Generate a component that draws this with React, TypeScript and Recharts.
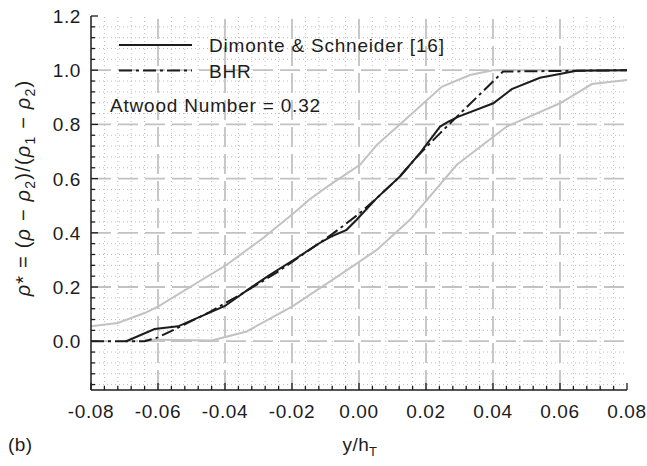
import { Label, Line, LineChart, ReferenceLine, XAxis, YAxis } from "recharts";

// panel (b): normalised density across the mixing layer

const xMajor = [-0.08, -0.06, -0.04, -0.02, 0.0, 0.02, 0.04, 0.06, 0.08];
const yMajor = [0.0, 0.2, 0.4, 0.6, 0.8, 1.0, 1.2];
const xDomain: [number, number] = [-0.08, 0.08];
const yDomain: [number, number] = [-0.18, 1.2];

const dimonteX = [-0.0695, -0.061, -0.054, -0.04, -0.0325, -0.0266, -0.0186, -0.0126, -0.0085, -0.0037, -0.0007, 0.0053, 0.0122, 0.0182, 0.0242, 0.0267, 0.0297, 0.0401, 0.0456, 0.054, 0.065, 0.08];
const dimonteY = [0.0, 0.045, 0.055, 0.13, 0.196, 0.245, 0.307, 0.356, 0.385, 0.411, 0.448, 0.528, 0.608, 0.694, 0.792, 0.81, 0.829, 0.878, 0.93, 0.972, 0.998, 1.0];

const bhrX = [-0.08, -0.064, -0.06, -0.054, -0.045, -0.035, -0.025, -0.015, -0.008, 0.0, 0.0053, 0.012, 0.018, 0.024, 0.031, 0.04, 0.043, 0.08];
const bhrY = [0.0, 0.0, 0.014, 0.05, 0.105, 0.175, 0.25, 0.335, 0.395, 0.47, 0.528, 0.605, 0.69, 0.765, 0.85, 0.958, 0.995, 1.0];

const upperX = [-0.08, -0.072, -0.064, -0.06, -0.0395, -0.0287, -0.0197, -0.0146, -0.0087, 0.0003, 0.0053, 0.0131, 0.0247, 0.0331, 0.04, 0.08];
const upperY = [0.055, 0.067, 0.104, 0.128, 0.282, 0.38, 0.47, 0.525, 0.577, 0.651, 0.724, 0.81, 0.939, 0.982, 1.0, 1.0];

const lowerX = [-0.064, -0.06, -0.044, -0.0335, -0.02, -0.0057, 0.0053, 0.0152, 0.0292, 0.0441, 0.06, 0.0695, 0.08];
const lowerY = [0.005, 0.005, 0.003, 0.036, 0.128, 0.245, 0.337, 0.448, 0.651, 0.792, 0.878, 0.949, 0.964];

const toPoints = (xs: number[], ys: number[]) => xs.map((x, i) => ({ x, y: ys[i] }));

const dimonte = toPoints(dimonteX, dimonteY);
const bhr = toPoints(bhrX, bhrY);
const upper = toPoints(upperX, upperY);
const lower = toPoints(lowerX, lowerY);

const FONT = "'Liberation Sans', Arial, Helvetica, sans-serif";
const INK = "#1c1c1c";
const GREY = "#c2c2c2";
const DASH_DOT = "13 4 3 4";
const PLOT = { left: 91, right: 627, top: 16, bottom: 390 };

function steps(lo: number, hi: number, step: number) {
  const out: number[] = [];
  for (let k = Math.ceil(lo / step - 1e-9); k * step <= hi + 1e-9; k++) {
    out.push(+(k * step).toFixed(4));
  }
  return out;
}

const isMajor = (v: number, majors: number[]) => majors.some((m) => Math.abs(m - v) < 1e-6);

const xTicks = steps(xDomain[0], xDomain[1], 0.004);
const yTicks = steps(yDomain[0], yDomain[1], 0.04);
const xMinor = xTicks.filter((v) => !isMajor(v, xMajor));
const yMinor = yTicks.filter((v) => !isMajor(v, yMajor));
const xGrid = xMajor.slice(1, -1);
const yGrid = yMajor.slice(0, -1);

function BottomTick(props: any) {
  const { x, payload } = props;
  const major = isMajor(payload.value, xMajor);
  return (
    <g>
      <line x1={x} x2={x} y1={PLOT.bottom} y2={PLOT.bottom - (major ? 7 : 4)} stroke={INK} strokeWidth={1.3} />
      {major && (
        <text x={x} y={PLOT.bottom + 28} textAnchor="middle" fontSize={19} letterSpacing={0.6} fill={INK} fontFamily={FONT}>
          {payload.value.toFixed(2)}
        </text>
      )}
    </g>
  );
}

function TopTick(props: any) {
  const { x, payload } = props;
  const major = isMajor(payload.value, xMajor);
  return <line x1={x} x2={x} y1={PLOT.top} y2={PLOT.top + (major ? 7 : 4)} stroke={INK} strokeWidth={1.3} />;
}

function LeftTick(props: any) {
  const { y, payload } = props;
  const major = isMajor(payload.value, yMajor);
  return (
    <g>
      <line x1={PLOT.left} x2={PLOT.left + (major ? 7 : 4)} y1={y} y2={y} stroke={INK} strokeWidth={1.3} />
      {major && (
        <text x={PLOT.left - 10} y={y + 7} textAnchor="end" fontSize={19} letterSpacing={0.6} fill={INK} fontFamily={FONT}>
          {payload.value.toFixed(1)}
        </text>
      )}
    </g>
  );
}

function RightTick(props: any) {
  const { y, payload } = props;
  const major = isMajor(payload.value, yMajor);
  return <line x1={PLOT.right} x2={PLOT.right - (major ? 7 : 4)} y1={y} y2={y} stroke={INK} strokeWidth={1.3} />;
}

const rho = (key: string) => (
  <tspan key={key} fontStyle="italic">
    ρ
  </tspan>
);

function YTitle() {
  const cx = 30;
  const cy = 188;
  return (
    <text transform={`rotate(-90 ${cx} ${cy})`} x={cx} y={cy} textAnchor="middle" fontSize={20} letterSpacing={1.2} fill={INK} fontFamily={FONT}>
      {rho("a")}
      <tspan>* = (</tspan>
      {rho("b")}
      <tspan> − </tspan>
      {rho("c")}
      <tspan dy={5} fontSize={14}>2</tspan>
      <tspan dy={-5}>)/(</tspan>
      {rho("d")}
      <tspan dy={5} fontSize={14}>1</tspan>
      <tspan dy={-5}> − </tspan>
      {rho("e")}
      <tspan dy={5} fontSize={14}>2</tspan>
      <tspan dy={-5}>)</tspan>
    </text>
  );
}

function XTitle() {
  return (
    <g fontFamily={FONT} fill={INK}>
      <text x={360} y={451} textAnchor="middle" fontSize={19} letterSpacing={0.4}>
        y/h<tspan dy={5} fontSize={13}>T</tspan>
      </text>
      <text x={8} y={451} fontSize={19} letterSpacing={0.4}>
        (b)
      </text>
    </g>
  );
}

function LegendBox() {
  return (
    <g fontFamily={FONT} fill={INK} fontSize={19} letterSpacing={0.8}>
      <line x1={119} x2={192} y1={45} y2={45} stroke={INK} strokeWidth={2} />
      <text x={209} y={52}>Dimonte &amp; Schneider [16]</text>
      <line x1={119} x2={192} y1={70.5} y2={70.5} stroke={INK} strokeWidth={2} strokeDasharray={DASH_DOT} />
      <text x={209} y={78}>BHR</text>
      <text x={110} y={112}>Atwood Number = 0.32</text>
    </g>
  );
}

export default function App() {
  return (
    <div style={{ position: "absolute", left: 0, top: 0, background: "#fff" }}>
      <LineChart width={647} height={466} margin={{ top: 16, right: 20, bottom: 0, left: 0 }}>
        <XAxis
          type="number"
          dataKey="x"
          domain={xDomain}
          ticks={xTicks}
          interval={0}
          height={76}
          tickSize={0}
          tickLine={false}
          axisLine={{ stroke: INK, strokeWidth: 1.5 }}
          tick={(p: any) => <BottomTick {...p} />}
        >
          <Label content={() => <XTitle />} />
        </XAxis>
        <XAxis
          xAxisId="top"
          orientation="top"
          type="number"
          dataKey="x"
          domain={xDomain}
          ticks={xTicks}
          interval={0}
          height={0}
          tickSize={0}
          tickLine={false}
          axisLine={{ stroke: INK, strokeWidth: 1.5 }}
          tick={(p: any) => <TopTick {...p} />}
        />
        <YAxis
          type="number"
          domain={yDomain}
          ticks={yTicks}
          interval={0}
          width={91}
          tickSize={0}
          tickLine={false}
          axisLine={{ stroke: INK, strokeWidth: 1.5 }}
          tick={(p: any) => <LeftTick {...p} />}
        >
          <Label
            content={() => (
              <g>
                <YTitle />
                <LegendBox />
              </g>
            )}
          />
        </YAxis>
        <YAxis
          yAxisId="right"
          orientation="right"
          type="number"
          domain={yDomain}
          ticks={yTicks}
          interval={0}
          width={0}
          tickSize={0}
          tickLine={false}
          axisLine={{ stroke: INK, strokeWidth: 1.5 }}
          tick={(p: any) => <RightTick {...p} />}
        />

        {xMinor.map((v) => (
          <ReferenceLine key={`xm${v}`} x={v} stroke="#bdbdbd" strokeWidth={1} strokeDasharray="1 3" />
        ))}
        {yMinor.map((v) => (
          <ReferenceLine key={`ym${v}`} y={v} stroke="#bdbdbd" strokeWidth={1} strokeDasharray="1 3" />
        ))}
        {xGrid.map((v) => (
          <ReferenceLine key={`xg${v}`} x={v} stroke={GREY} strokeWidth={1.8} strokeDasharray="20 7" />
        ))}
        {yGrid.map((v) => (
          <ReferenceLine key={`yg${v}`} y={v} stroke={GREY} strokeWidth={1.8} strokeDasharray="20 7" />
        ))}

        <Line data={upper} dataKey="y" type="linear" stroke={GREY} strokeWidth={2} dot={false} activeDot={false} legendType="none" isAnimationActive={false} />
        <Line data={lower} dataKey="y" type="linear" stroke={GREY} strokeWidth={2} dot={false} activeDot={false} legendType="none" isAnimationActive={false} />
        <Line data={bhr} dataKey="y" type="linear" stroke={INK} strokeWidth={2} strokeDasharray={DASH_DOT} dot={false} activeDot={false} isAnimationActive={false} />
        <Line data={dimonte} dataKey="y" type="linear" stroke={INK} strokeWidth={2} dot={false} activeDot={false} isAnimationActive={false} />
      </LineChart>
    </div>
  );
}
